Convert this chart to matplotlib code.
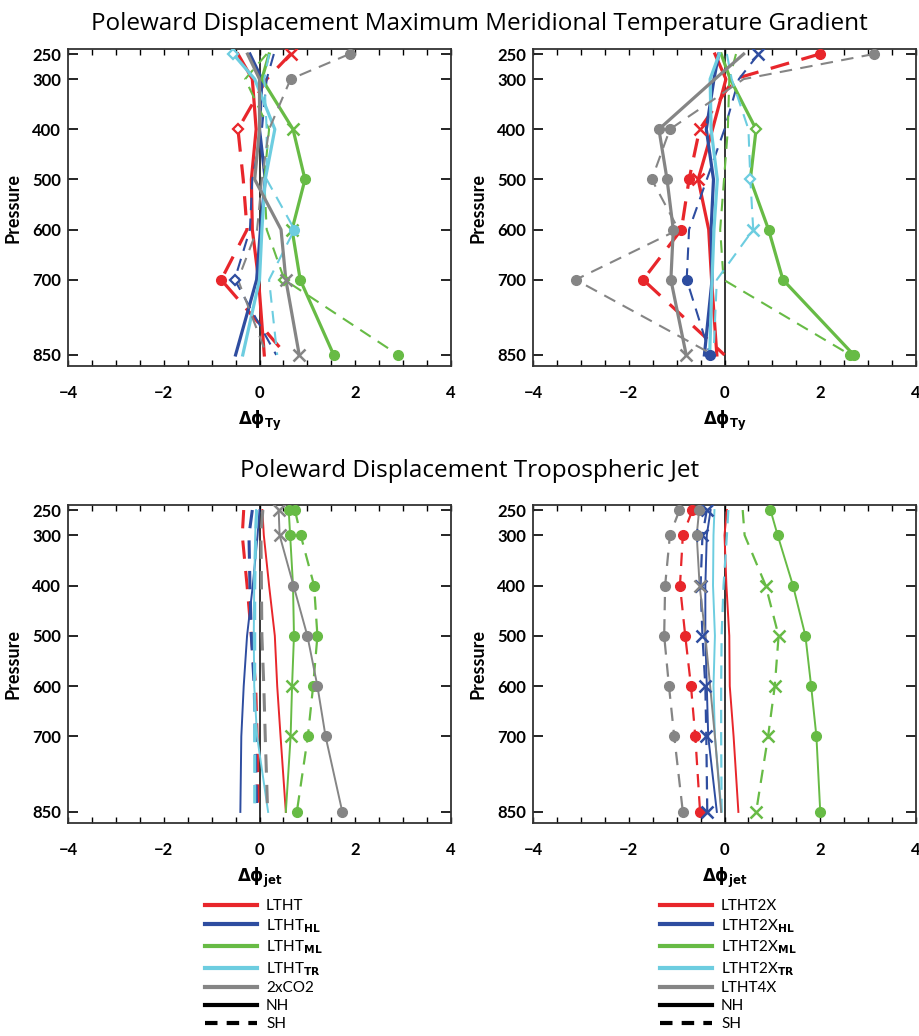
import matplotlib
matplotlib.use("Agg")
import matplotlib.pyplot as plt
from matplotlib.lines import Line2D
import numpy as np

plt.rcParams['font.family'] = ['Lato', 'DejaVu Sans']
plt.rcParams['mathtext.fontset'] = 'dejavusans'

# ---------------- data ----------------
levels = [250, 300, 400, 500, 600, 700, 850]
series_top = ['LTHT', 'LTHT$_{\\mathbf{HL}}$', 'LTHT$_{\\mathbf{ML}}$', 'LTHT$_{\\mathbf{TR}}$', '2xCO2']
series_bot = ['LTHT2X', 'LTHT2X$_{\\mathbf{HL}}$', 'LTHT2X$_{\\mathbf{ML}}$', 'LTHT2X$_{\\mathbf{TR}}$', 'LTHT4X']

# Panel 1: max meridional temperature gradient, single forcing (NH solid / SH dashed)
p1_red_nh   = [-0.45, -0.15, -0.07, -0.17, -0.15, -0.02, 0.10]
p1_red_sh   = [0.65, 0.15, -0.45, -0.34, -0.26, -0.80, 0.56]
p1_blue_nh  = [-0.20, 0.05, 0.00, 0.12, 0.02, -0.06, -0.50]
p1_blue_sh  = [0.30, 0.15, 0.05, -0.15, -0.20, -0.52, 0.35]
p1_green_nh = [0.20, 0.05, 0.70, 0.95, 0.68, 0.85, 1.55]
p1_green_sh = [0.15, -0.30, 0.20, 0.10, 0.15, 0.52, 2.90]
p1_cyan_nh  = [-0.55, -0.10, 0.32, 0.12, 0.05, 0.00, -0.35]
p1_cyan_sh  = [0.20, 0.10, 0.15, 0.15, 0.73, 0.20, 0.37]
p1_gray_nh  = [-0.25, 0.00, 0.00, -0.10, 0.45, 0.55, 0.83]
p1_gray_sh  = [1.88, 0.65, 0.20, 0.05, -0.05, -0.45, 0.15]
# significance markers: o dot, x cross, d diamond, - none
p1_red_nh_m   = "-------"
p1_red_sh_m   = "x-d--o-"
p1_blue_nh_m  = "-------"
p1_blue_sh_m  = "-----d-"
p1_green_nh_m = "--xoxoo"
p1_green_sh_m = "-----do"
p1_cyan_nh_m  = "d------"
p1_cyan_sh_m  = "----o--"
p1_gray_nh_m  = "-----xx"
p1_gray_sh_m  = "oo-----"

# Panel 2: max meridional temperature gradient, combined forcing
p2_red_nh   = [-0.20, 0.03, -0.25, -0.55, -0.33, -0.27, -0.16]
p2_red_sh   = [1.99, 0.20, -0.52, -0.74, -0.90, -1.70, 0.00]
p2_blue_nh  = [-0.12, -0.22, -0.38, -0.23, -0.28, -0.26, -0.42]
p2_blue_sh  = [0.71, 0.30, 0.00, -0.37, -0.74, -0.79, -0.30]
p2_green_nh = [-0.07, 0.12, 0.66, 0.54, 0.92, 1.22, 2.70]
p2_green_sh = [0.24, 0.10, 0.07, -0.01, -0.09, -0.02, 2.63]
p2_cyan_nh  = [-0.11, -0.30, -0.28, -0.15, -0.22, -0.26, -0.31]
p2_cyan_sh  = [0.05, 0.15, 0.50, 0.54, 0.60, -0.16, -0.23]
p2_gray_nh  = [0.40, -0.20, -1.37, -1.20, -1.07, -1.12, -0.80]
p2_gray_sh  = [3.12, 0.40, -1.14, -1.52, -0.96, -3.11, -0.23]
p2_red_nh_m   = "---x---"
p2_red_sh_m   = "o-xooo-"
p2_blue_nh_m  = "-------"
p2_blue_sh_m  = "x----oo"
p2_green_nh_m = "--d-ooo"
p2_green_sh_m = "------o"
p2_cyan_nh_m  = "-------"
p2_cyan_sh_m  = "---dx--"
p2_gray_nh_m  = "--oooox"
p2_gray_sh_m  = "o-oo-o-"

# Panel 3: tropospheric jet, single forcing
p3_red_nh   = [0.06, 0.09, 0.20, 0.32, 0.37, 0.44, 0.55]
p3_red_sh   = [-0.33, -0.36, -0.26, -0.17, -0.08, -0.05, -0.03]
p3_blue_nh  = [0.00, -0.04, -0.14, -0.26, -0.33, -0.38, -0.40]
p3_blue_sh  = [-0.15, -0.22, -0.20, -0.17, -0.11, -0.09, -0.06]
p3_green_nh = [0.61, 0.64, 0.70, 0.72, 0.68, 0.65, 0.55]
p3_green_sh = [0.74, 0.86, 1.14, 1.21, 1.12, 1.01, 0.78]
p3_cyan_nh  = [-0.07, -0.09, -0.11, -0.12, -0.11, -0.05, 0.18]
p3_cyan_sh  = [-0.06, -0.08, -0.10, -0.10, -0.10, -0.10, -0.10]
p3_gray_nh  = [0.40, 0.42, 0.71, 1.00, 1.21, 1.38, 1.73]
p3_gray_sh  = [0.07, 0.03, 0.04, 0.05, 0.09, 0.12, 0.17]
p3_red_nh_m   = "-------"
p3_red_sh_m   = "-------"
p3_blue_nh_m  = "-------"
p3_blue_sh_m  = "-------"
p3_green_nh_m = "oo-oxx-"
p3_green_sh_m = "ooooooo"
p3_cyan_nh_m  = "-------"
p3_cyan_sh_m  = "-------"
p3_gray_nh_m  = "xxooooo"
p3_gray_sh_m  = "-------"

# Panel 4: tropospheric jet, combined forcing
p4_red_nh   = [0.05, 0.00, 0.04, 0.10, 0.11, 0.19, 0.29]
p4_red_sh   = [-0.67, -0.87, -0.93, -0.82, -0.70, -0.61, -0.51]
p4_blue_nh  = [-0.29, -0.37, -0.40, -0.40, -0.37, -0.34, -0.16]
p4_blue_sh  = [-0.37, -0.46, -0.50, -0.46, -0.40, -0.38, -0.36]
p4_green_nh = [0.96, 1.11, 1.43, 1.69, 1.81, 1.92, 2.00]
p4_green_sh = [0.38, 0.42, 0.86, 1.13, 1.05, 0.91, 0.66]
p4_cyan_nh  = [-0.21, -0.23, -0.24, -0.20, -0.23, -0.20, -0.06]
p4_cyan_sh  = [0.08, 0.05, -0.02, -0.06, -0.07, -0.07, -0.06]
p4_gray_nh  = [-0.53, -0.58, -0.52, -0.40, -0.30, -0.20, -0.07]
p4_gray_sh  = [-0.94, -1.14, -1.24, -1.26, -1.16, -1.05, -0.87]
p4_red_nh_m   = "-------"
p4_red_sh_m   = "ooooooo"
p4_blue_nh_m  = "-------"
p4_blue_sh_m  = "xxxxxxx"
p4_green_nh_m = "ooooooo"
p4_green_sh_m = "--xxxxx"
p4_cyan_nh_m  = "-------"
p4_cyan_sh_m  = "-------"
p4_gray_nh_m  = "oox----"
p4_gray_sh_m  = "ooooooo"

# ---------------- styling ----------------
colors = ['#E8262B', '#2E4DA0', '#67BB45', '#6DCDE0', '#858585']

panels = [
    [(p1_red_nh, p1_red_nh_m, p1_red_sh, p1_red_sh_m),
     (p1_blue_nh, p1_blue_nh_m, p1_blue_sh, p1_blue_sh_m),
     (p1_green_nh, p1_green_nh_m, p1_green_sh, p1_green_sh_m),
     (p1_cyan_nh, p1_cyan_nh_m, p1_cyan_sh, p1_cyan_sh_m),
     (p1_gray_nh, p1_gray_nh_m, p1_gray_sh, p1_gray_sh_m)],
    [(p2_red_nh, p2_red_nh_m, p2_red_sh, p2_red_sh_m),
     (p2_blue_nh, p2_blue_nh_m, p2_blue_sh, p2_blue_sh_m),
     (p2_green_nh, p2_green_nh_m, p2_green_sh, p2_green_sh_m),
     (p2_cyan_nh, p2_cyan_nh_m, p2_cyan_sh, p2_cyan_sh_m),
     (p2_gray_nh, p2_gray_nh_m, p2_gray_sh, p2_gray_sh_m)],
    [(p3_red_nh, p3_red_nh_m, p3_red_sh, p3_red_sh_m),
     (p3_blue_nh, p3_blue_nh_m, p3_blue_sh, p3_blue_sh_m),
     (p3_green_nh, p3_green_nh_m, p3_green_sh, p3_green_sh_m),
     (p3_cyan_nh, p3_cyan_nh_m, p3_cyan_sh, p3_cyan_sh_m),
     (p3_gray_nh, p3_gray_nh_m, p3_gray_sh, p3_gray_sh_m)],
    [(p4_red_nh, p4_red_nh_m, p4_red_sh, p4_red_sh_m),
     (p4_blue_nh, p4_blue_nh_m, p4_blue_sh, p4_blue_sh_m),
     (p4_green_nh, p4_green_nh_m, p4_green_sh, p4_green_sh_m),
     (p4_cyan_nh, p4_cyan_nh_m, p4_cyan_sh, p4_cyan_sh_m),
     (p4_gray_nh, p4_gray_nh_m, p4_gray_sh, p4_gray_sh_m)],
]

W, H = 920, 1036
fig = plt.figure(figsize=(W / 100, H / 100), dpi=100)

def box(l, t, r, b):
    return [l / W, 1 - b / H, (r - l) / W, (b - t) / H]

rects = [box(68, 49, 451, 366), box(533, 49, 916, 366),
         box(68, 505, 451, 823), box(533, 505, 916, 823)]
xlabels = [r'$\mathbf{\Delta\phi_{Ty}}$', r'$\mathbf{\Delta\phi_{Ty}}$',
           r'$\mathbf{\Delta\phi_{jet}}$', r'$\mathbf{\Delta\phi_{jet}}$']

def draw_markers(ax, xs, codes, col):
    for x, p, c in zip(xs, levels, codes):
        if c == 'o':
            ax.plot(x, p, 'o', color=col, ms=7, mec=col, zorder=5)
        elif c == 'x':
            ax.plot(x, p, 'x', color=col, ms=8, mew=1.8, zorder=5)
        elif c == 'd':
            ax.plot(x, p, 'D', color=col, ms=5.5, mfc='white', mew=1.6, zorder=5)

for i, (rect, pdata) in enumerate(zip(rects, panels)):
    ax = fig.add_axes(rect)
    top = i < 2
    lw_nh = 2.3 if top else 1.4
    for k, (nh, nhm, sh, shm) in enumerate(pdata):
        col = colors[k]
        if top:
            lws = 2.3 if k == 0 else 1.5
        else:
            lws = 2.2 if (i == 2 and k != 2) else 1.6
        ax.plot(sh, levels, color=col, lw=lws, ls=(0, (6, 4)), zorder=3)
        ax.plot(nh, levels, color=col, lw=lw_nh, ls='-', zorder=3)
        draw_markers(ax, sh, shm, col)
        draw_markers(ax, nh, nhm, col)
    ax.axvline(0, color='black', lw=1.1, zorder=2)
    ax.set_xlim(-4, 4)
    ax.set_ylim(872, 240)
    ax.set_yticks(levels)
    ax.set_yticklabels([str(v) for v in levels], fontsize=12, fontweight='bold')
    ax.set_xticks([-4, -2, 0, 2, 4])
    ax.set_xticklabels(['\u22124', '\u22122', '0', '2', '4'], fontsize=12, fontweight='bold')
    ax.set_xticks(np.arange(-4, 4.01, 0.5), minor=True)
    ax.tick_params(axis='y', direction='in', length=7, width=1.2, right=True, pad=5)
    ax.tick_params(axis='x', which='both', direction='in', length=4, width=1.0, top=True, pad=14)
    ax.set_ylabel('Pressure', fontsize=13, fontweight='bold', labelpad=8)
    ax.set_xlabel(xlabels[i], fontsize=12, labelpad=5)
    for s in ax.spines.values():
        s.set_linewidth(1.3)
        s.set_color('#333333')

fig.text(479 / W, 1 - 24 / H, 'Poleward Displacement Maximum Meridional Temperature Gradient',
         ha='center', va='center', fontsize=17.5, family=['Open Sans', 'DejaVu Sans'])
fig.text(470 / W, 1 - 471 / H, 'Poleward Displacement Tropospheric Jet',
         ha='center', va='center', fontsize=17.5, family=['Open Sans', 'DejaVu Sans'])

def legend_at(x0, labels):
    handles = [Line2D([], [], color=c, lw=3) for c in colors]
    handles += [Line2D([], [], color='black', lw=3),
                Line2D([], [], color='black', lw=3, ls=(0, (3, 2.2)))]
    labs = labels + ['NH', 'SH']
    fig.legend(handles, labs, loc='upper left', bbox_to_anchor=(x0 / W, 1 - 899 / H),
               frameon=False, fontsize=11, handlelength=3.4, handletextpad=0.6,
               labelspacing=0.25, borderaxespad=0, borderpad=0)

legend_at(205, series_top)
legend_at(660, series_bot)

fig.savefig('out.png', dpi=100)
